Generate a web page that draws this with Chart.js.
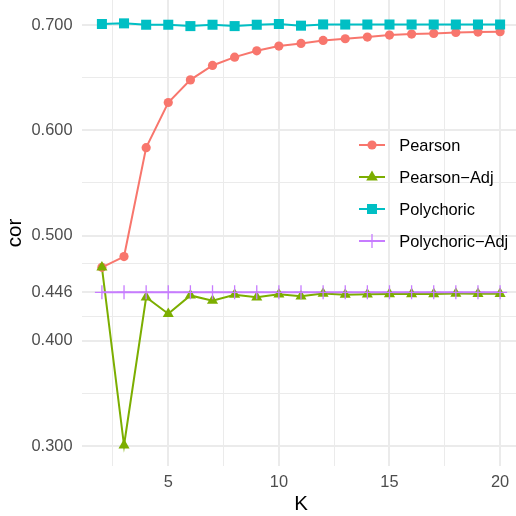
<!DOCTYPE html>
<html>
<head>
<meta charset="utf-8">
<script src="https://cdn.jsdelivr.net/npm/chart.js@4.4.0/dist/chart.umd.min.js"></script>
<style>
  html, body { margin: 0; padding: 0; overflow: hidden; background: #ffffff; width: 516px; height: 516px; }
  #wrap { position: relative; width: 520px; height: 516px; }
  #c { position: absolute; left: 0; top: 0; }
  .leg { position: absolute; left: 359px; height: 20px; font-family: "Liberation Sans", Arial, sans-serif; font-size: 16.4px; line-height: 20px; color: #000; white-space: nowrap; }
  .leg svg { position: absolute; left: 0; top: 0; }
  .leg span { position: absolute; left: 40.3px; top: 0; }
</style>
</head>
<body>
<div id="wrap">
  <canvas id="c" width="520" height="516"></canvas>
  <div id="legend"></div>
</div>
<script>
// ---- data ----
const K = [2,3,4,5,6,7,8,9,10,11,12,13,14,15,16,17,18,19,20];
const seriesNames = ['Pearson', 'Pearson\u2212Adj', 'Polychoric', 'Polychoric\u2212Adj'];
const pearson     = [0.4698,0.480,0.5835,0.6264,0.6479,0.6616,0.6695,0.6755,0.6800,0.6825,0.6854,0.6870,0.6886,0.6905,0.6914,0.6920,0.6930,0.6933,0.6937];
const pearsonAdj  = [0.4698,0.3007,0.4413,0.4256,0.4431,0.4381,0.4438,0.4413,0.4441,0.4422,0.4448,0.4438,0.4441,0.4445,0.4445,0.4445,0.4448,0.4447,0.4447];
const polychoric  = [0.7010,0.7016,0.7003,0.7003,0.6990,0.7003,0.6990,0.7003,0.7010,0.6994,0.7006,0.7005,0.7005,0.7005,0.7005,0.7005,0.7005,0.7005,0.7005];
const polychoricAdj = [0.446,0.446,0.446,0.446,0.446,0.446,0.446,0.446,0.446,0.446,0.446,0.446,0.446,0.446,0.446,0.446,0.446,0.446,0.446];
const xTickLabels = [5, 10, 15, 20];
const xMinorTicks = [2.5, 7.5, 12.5, 17.5];
const yTickLabels = ['0.300', '0.400', '0.446', '0.500', '0.600', '0.700'];
const yMinorTicks = [0.35, 0.423, 0.473, 0.55, 0.65];

// ---- style ----
const colors = ['#F8766D', '#7CAE00', '#00BFC4', '#C77CFF'];
const shapes = ['circle', 'triangle', 'rect', 'cross'];
const radii  = [4.6, 6.4, 7.1, 7];
const values = [pearson, pearsonAdj, polychoric, polychoricAdj];
const FONT = '"Liberation Sans", Arial, sans-serif';

const datasets = [];
values.forEach((vals, i) => {
  datasets.push({
    label: seriesNames[i] + ' line',
    data: K.map((k, j) => ({ x: k, y: vals[j] })),
    borderColor: colors[i], borderWidth: 2, pointRadius: 0, tension: 0,
    fill: false, order: 8 - i
  });
});
values.forEach((vals, i) => {
  datasets.push({
    label: seriesNames[i],
    data: K.map((k, j) => ({ x: k, y: vals[j] })),
    showLine: false,
    pointStyle: shapes[i], pointRadius: radii[i],
    pointBackgroundColor: colors[i], pointBorderColor: colors[i],
    pointBorderWidth: shapes[i] === 'cross' ? 1.3 : 0,
    order: 4 - i
  });
});

const xMajorSet = new Set(xTickLabels);
const yMajorSet = new Set(yTickLabels.map(Number));
const zeroPad = s => { s.paddingTop = 0; s.paddingBottom = 0; s.paddingLeft = 0; s.paddingRight = 0; };

new Chart(document.getElementById('c'), {
  type: 'line',
  data: { datasets },
  options: {
    responsive: false, animation: false, events: [],
    layout: { padding: 0, autoPadding: false },
    plugins: { legend: { display: false }, tooltip: { enabled: false } },
    scales: {
      x: {
        type: 'linear', min: 1.1, max: 20.9,
        afterBuildTicks: s => { s.ticks = xMinorTicks.concat(xTickLabels).sort((a,b)=>a-b).map(v => ({ value: v })); },
        afterFit: s => { s.height = 50; zeroPad(s); },
        ticks: { autoSkip: false, maxRotation: 0, padding: 7, color: '#4D4D4D', font: { family: FONT, size: 16.4 },
                 callback: v => xMajorSet.has(v) ? String(v) : '' },
        grid: { drawTicks: false, color: '#EBEBEB', lineWidth: c => (c.tick && xMajorSet.has(c.tick.value)) ? 2 : 1 },
        border: { display: false },
        title: { display: true, text: 'K', color: '#000', font: { family: FONT, size: 20.5, lineHeight: 1.0 }, padding: { top: 0, bottom: 1.5 } }
      },
      y: {
        type: 'linear', min: 0.281, max: 0.7238,
        afterBuildTicks: s => { s.ticks = yMinorTicks.concat(yTickLabels.map(Number)).sort((a,b)=>a-b).map(v => ({ value: v })); },
        afterFit: s => { s.width = 82; zeroPad(s); },
        ticks: { autoSkip: false, padding: 9.5, color: '#4D4D4D', font: { family: FONT, size: 16.4 },
                 callback: v => yMajorSet.has(v) ? yTickLabels[yTickLabels.map(Number).indexOf(v)] : '' },
        grid: { drawTicks: false, color: '#EBEBEB', lineWidth: c => (c.tick && yMajorSet.has(c.tick.value)) ? 2 : 1 },
        border: { display: false },
        title: { display: true, text: 'cor', color: '#000', font: { family: FONT, size: 20.5 }, padding: { top: 3.5, bottom: 0 } }
      }
    }
  }
});

// ---- legend (HTML) ----
const legendTops = [135, 167, 199, 231];
const legend = document.getElementById('legend');
function markerSvg(i) {
  const c = colors[i];
  let m = '';
  if (shapes[i] === 'circle') m = `<circle cx="13" cy="10" r="4.6" fill="${c}"/>`;
  if (shapes[i] === 'triangle') m = `<polygon points="13,3.4 18.8,13.4 7.2,13.4" fill="${c}"/>`;
  if (shapes[i] === 'rect') m = `<rect x="8" y="5" width="10" height="10" fill="${c}"/>`;
  if (shapes[i] === 'cross') m = `<line x1="6" y1="10" x2="20" y2="10" stroke="${c}" stroke-width="1.3"/><line x1="13" y1="3" x2="13" y2="17" stroke="${c}" stroke-width="1.3"/>`;
  return `<svg width="26" height="20" viewBox="0 0 26 20"><line x1="0" y1="10" x2="26" y2="10" stroke="${c}" stroke-width="2"/>${m}</svg>`;
}
seriesNames.forEach((name, i) => {
  const d = document.createElement('div');
  d.className = 'leg';
  d.style.top = legendTops[i] + 'px';
  d.innerHTML = markerSvg(i) + '<span>' + name + '</span>';
  legend.appendChild(d);
});
</script>
</body>
</html>
